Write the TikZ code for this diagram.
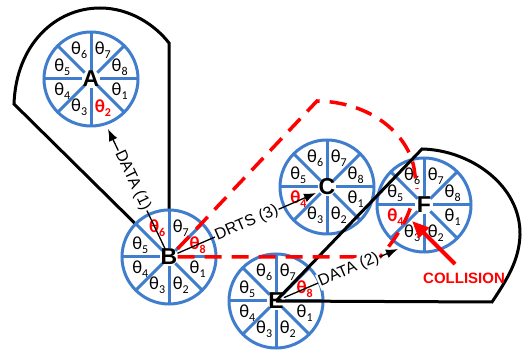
\documentclass[tikz,border=0pt]{standalone}
\usepackage{fontspec}
\setmainfont{Liberation Sans}
\newfontfamily\sectorfont{Carlito}
\usetikzlibrary{arrows.meta,calc}

\definecolor{ringblue}{RGB}{65,125,205}
\definecolor{alarm}{RGB}{255,0,0}

\tikzset{
  ring/.style={draw=ringblue, line width=3pt},
  letter/.style={font=\fontsize{23}{23}\selectfont\bfseries, inner sep=0pt},
  thlabel/.style={font=\sectorfont\fontsize{18.5}{18.5}\selectfont, inner sep=0pt},
  beam/.style={draw=black, line width=3pt, line join=miter},
  msg/.style={draw=black, line width=1.3pt, -{Latex[length=12pt,width=9pt]}},
  msglabel/.style={font=\fontsize{16}{16}\selectfont, sloped, fill=white, inner sep=1pt},
  redpath/.style={draw=alarm, line width=3.5pt, dash pattern=on 17pt off 10pt},
  hitarrow/.style={draw=alarm, line width=4pt, -{Triangle[length=17pt,width=14pt]}},
  hitlabel/.style={font=\fontsize{15}{15}\selectfont\bfseries, text=alarm, inner sep=0pt},
}

% theta with a lowered index
\newcommand\thsub[1]{θ\raisebox{-4pt}{\fontsize{12}{12}\selectfont#1}}

% a station: ring of eight sectors theta_1..theta_8, letter in the middle;
% #3 lists the sector numbers printed in red (and bold)
\makeatletter
\newcommand\station[3]{%
  \fill[white] (p#1) circle[radius=47pt];
  \draw[ring] (p#1) circle[radius=47pt];
  \foreach \k in {0,...,7}{%
    \draw[ring] ($(p#1)+(\k*45:9pt)$) -- ($(p#1)+(\k*45:47pt)$);
  }
  \foreach \k in {1,...,8}{%
    \edef\tmp{\noexpand\in@{,\k,}{,#3,}}\tmp
    \ifin@\def\thcol{alarm}\def\thwt{\bfseries}\else\def\thcol{black}\def\thwt{}\fi
    \node[thlabel, text=\thcol] (#1-s\k) at ($(p#1)+(22.5-45*\k:31pt)$) {\thwt\thsub{\k}};
  }
  \node[letter] (#1) at (p#1) {#2};
}
\makeatother

\begin{document}
\begin{tikzpicture}[x=1pt, y=-1pt]
\useasboundingbox (0,0) rectangle (522,352);

% station centres
\coordinate (pA) at (91,79);
\coordinate (pB) at (169,257);
\coordinate (pC) at (327,187);
\coordinate (pE) at (276,301);
\coordinate (pF) at (424,205);

% beam of B towards A
\draw[beam] (pB) -- (14,104)
  .. controls (16,45) and (55,8) .. (100,8)
  .. controls (130,8) and (155,25) .. (169,43) -- (pB);

\station{A}{A}{2}
\station{B}{B}{6,8}
\station{C}{C}{4}
\station{E}{E}{8}
\station{F}{F}{4}

% beam of E towards F
\draw[beam] (pE) -- (422,149)
  .. controls (470,150) and (521,185) .. (520,235)
  .. controls (519,260) and (508,278) .. (492,302) -- (pE);

% the two routes from B that meet at F
\coordinate (arcstart) at (317,101);
\coordinate (hit6) at (417,189);
\coordinate (bend) at (380,257);
\coordinate (hit4) at (413,199);
\draw[redpath] (B.north east) -- (arcstart)
  .. controls (372,102) and (408,135) .. (414,168) -- (hit6);
\draw[redpath] (B.east) -- (bend)
  .. controls (395,240) and (408,220) .. (hit4);

% messages
\coordinate (a1) at (108,129);
\coordinate (c1) at (316,193);
\coordinate (e1) at (398,249);
\draw[msg] (B) -- node[msglabel, pos=0.57] {DATA (1)} (a1);
\draw[msg] (B) -- node[msglabel] {DRTS (3)} (c1);
\draw[msg] (E) -- node[msglabel, pos=0.57] {DATA (2)} (e1);

% collision marker
\node[hitlabel] (coll) at (464,278) {COLLISION};
\coordinate (colltail) at (455,264);
\coordinate (collhit) at (412,221);
\draw[hitarrow] (colltail) -- (collhit);
\end{tikzpicture}
\end{document}
